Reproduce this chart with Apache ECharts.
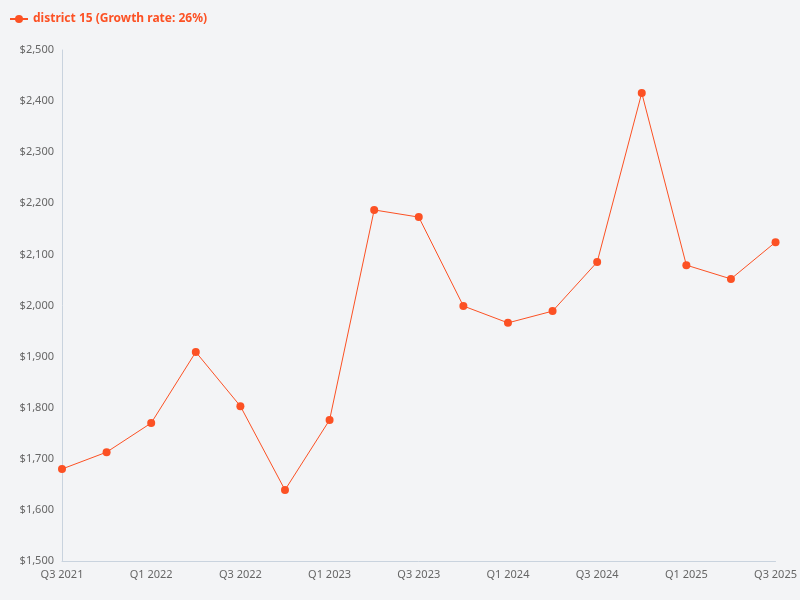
<!DOCTYPE html>
<html><head><meta charset="utf-8">
<script src="https://cdn.jsdelivr.net/npm/echarts@6/dist/echarts.min.js"></script>
<style>html,body{margin:0;background:#f3f4f6}#c{width:800px;height:600px}</style>
</head><body><div id="c"></div>
<script>
const categories=["Q3 2021","Q4 2021","Q1 2022","Q2 2022","Q3 2022","Q4 2022","Q1 2023","Q2 2023","Q3 2023","Q4 2023","Q1 2024","Q2 2024","Q3 2024","Q4 2024","Q1 2025","Q2 2025","Q3 2025"];
const values=[1680,1713,1770,1909,1803,1639,1776,2187,2173,1999,1966,1989,2085,2416,2079,2052,2124];
const seriesName="district 15 (Growth rate: 26%)";
const color="#fc5124";
const chart=echarts.init(document.getElementById('c'));
chart.setOption({
 backgroundColor:"#f3f4f6",
 textStyle:{fontFamily:"Noto Sans"},
 legend:{left:4,top:8,itemWidth:18,itemHeight:10,textStyle:{color:color,fontWeight:"bold",fontSize:12,fontFamily:"Noto Sans"},data:[seriesName]},
 grid:{left:62,right:23,top:50,bottom:39},
 xAxis:{type:"category",data:categories,boundaryGap:false,
  axisLine:{lineStyle:{color:"#c9d3de"}},axisTick:{show:false},
  axisLabel:{color:"#666",fontSize:11,interval:1,margin:8}},
 yAxis:{type:"value",min:1500,max:2500,interval:100,
  axisLine:{show:true,lineStyle:{color:"#c9d3de"}},splitLine:{show:false},
  axisLabel:{color:"#666",fontSize:11,formatter:v=>"$"+v.toLocaleString("en-US")}},
 series:[{name:seriesName,type:"line",data:values,color:color,symbol:"circle",symbolSize:8,
  lineStyle:{width:1,color:color},itemStyle:{color:color}}]
});
</script></body></html>
